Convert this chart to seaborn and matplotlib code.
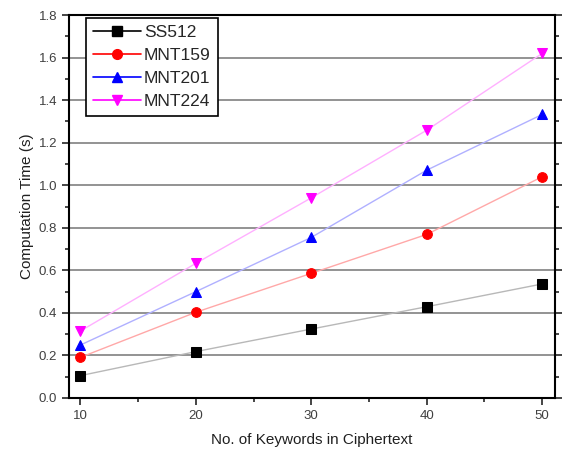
import pandas as pd
import seaborn as sns
import matplotlib.pyplot as plt
from matplotlib.lines import Line2D
from matplotlib.ticker import MultipleLocator

# keywords in ciphertext
keywords = [10, 20, 30, 40, 50]

# computation time (s)
ss512 = [0.105, 0.218, 0.324, 0.429, 0.536]
mnt159 = [0.191, 0.403, 0.586, 0.769, 1.04]
mnt201 = [0.249, 0.500, 0.755, 1.071, 1.333]
mnt224 = [0.315, 0.633, 0.941, 1.259, 1.62]

names = ['SS512', 'MNT159', 'MNT201', 'MNT224']
colors = ['black', 'red', 'blue', 'magenta']
light = ['#b8b8b8', '#ffa8a8', '#b0b0ff', '#ffb0ff']
markers = ['s', 'o', '^', 'v']

df = pd.DataFrame({'keywords': keywords * 4,
                   'time': ss512 + mnt159 + mnt201 + mnt224,
                   'curve': [n for n in names for _ in keywords]})

sns.set_style('ticks')
plt.rcParams['font.family'] = ['Liberation Sans', 'DejaVu Sans']

fig, ax = plt.subplots(figsize=(5.65, 4.59), dpi=100)

for name, c, lc, m in zip(names, colors, light, markers):
    sub = df[df['curve'] == name]
    sns.lineplot(data=sub, x='keywords', y='time', ax=ax, color=lc, lw=1,
                 marker=m, markersize=7, markerfacecolor=c, markeredgecolor=c)

ax.set_xlim(9, 51.1)
ax.set_ylim(0, 1.8)
ax.xaxis.set_major_locator(MultipleLocator(10))
ax.xaxis.set_minor_locator(MultipleLocator(5))
ax.yaxis.set_major_locator(MultipleLocator(0.2))
ax.yaxis.set_minor_locator(MultipleLocator(0.1))
ax.yaxis.set_major_formatter(plt.FuncFormatter(lambda v, p: '%.1f' % v))
ax.grid(axis='y', which='major', color='#808080', lw=1.2)
ax.set_axisbelow(True)

for s in ax.spines.values():
    s.set_linewidth(1.5)
    s.set_color('black')
ax.tick_params(which='both', direction='out', width=1.2, labelsize=9.5, labelcolor='#404040')
ax.tick_params(which='major', length=5)
ax.tick_params(which='minor', length=3)
ax.tick_params(axis='y', right=True, which='both')

ax.set_xlabel('No. of Keywords in Ciphertext', fontsize=11, color='#202020', labelpad=8)
ax.set_ylabel('Computation Time (s)', fontsize=11, color='#202020', labelpad=3)

handles = [Line2D([], [], color=c, marker=m, markersize=7, lw=1.2, label=n)
           for n, c, m in zip(names, colors, markers)]
leg = ax.legend(handles=handles, loc='upper left', bbox_to_anchor=(0.035, 0.992),
                fontsize=12.5, fancybox=False, edgecolor='black', framealpha=1,
                borderaxespad=0, borderpad=0.4, handlelength=2.75,
                handletextpad=0.2, labelspacing=0.45)
leg.get_frame().set_linewidth(1.2)

plt.subplots_adjust(left=0.122, right=0.982, top=0.967, bottom=0.133)
plt.savefig('out.png')
